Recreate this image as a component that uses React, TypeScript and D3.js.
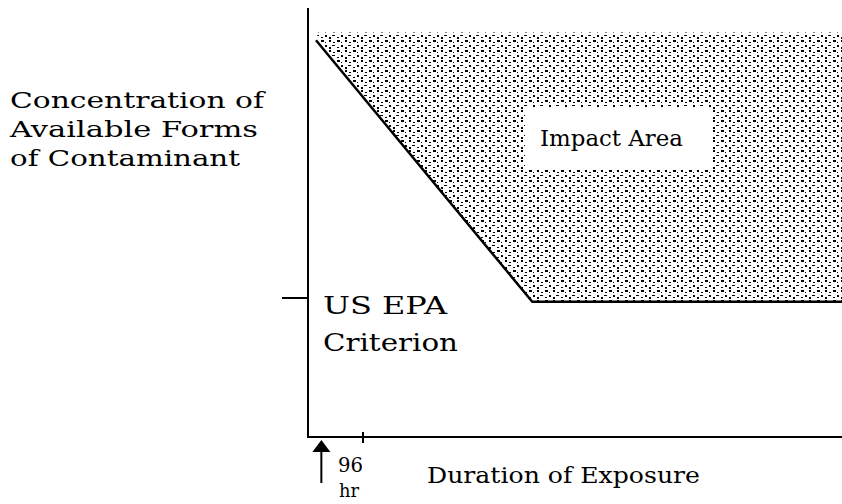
import React from "react";
import * as d3 from "d3";

// Boundary of the impact area (duration %, concentration %)
const boundaryDuration = [1.5, 42, 100];
const boundaryConcentration = [92.5, 31.5, 31.5];
const impactTop = 94.3;
const criterionValue = 32.4;
const tick96hr = 10.3;
const arrowDuration = 2.5;

const yLabelLines = ["Concentration of", "Available Forms", "of Contaminant"];
const criterionLines = ["US EPA", "Criterion"];
const xLabel = "Duration of Exposure";
const impactLabel = "Impact Area";
const tickLabels = ["96", "hr"];

const W = 842;
const H = 504;

export default function App() {
  const x = d3.scaleLinear().domain([0, 100]).range([308, 842]);
  const y = d3.scaleLinear().domain([0, 100]).range([437, 8]);

  const pts: [number, number][] = boundaryDuration.map((d, i) => [x(d), y(boundaryConcentration[i])]);
  const area: [number, number][] = [
    [x(boundaryDuration[0]) + 2, y(impactTop)],
    [x(100), y(impactTop)],
    ...pts.slice().reverse(),
  ];
  const areaPath = d3.line()(area) + "Z";
  const linePath = d3.line()(pts) || "";

  const font = "'DejaVu Serif', 'Liberation Serif', serif";

  return (
    <svg width={W} height={H} style={{ position: "absolute", left: 0, top: 0, background: "#fff" }}>
      <defs>
        <pattern id="stip" width="16" height="10" patternUnits="userSpaceOnUse">
          <rect x="1" y="0" width="3" height="2" fill="#000" />
          <rect x="9" y="0" width="2" height="2" fill="#000" />
          <rect x="5" y="2" width="1" height="1" fill="#000" />
          <rect x="13" y="2" width="2" height="1" fill="#000" />
          <rect x="5" y="5" width="2" height="2" fill="#000" />
          <rect x="12" y="5" width="3" height="1" fill="#000" />
          <rect x="1" y="7" width="2" height="1" fill="#000" />
          <rect x="9" y="7" width="2" height="2" fill="#000" />
        </pattern>
      </defs>
      <rect width={W} height={H} fill="#fff" />
      <path d={areaPath} fill="url(#stip)" />
      <path d={linePath} fill="none" stroke="#000" strokeWidth={2.5} />
      {/* white box behind Impact Area */}
      <rect x={525} y={107} width={187} height={62} fill="#fff" />
      <text x={540} y={146} fontFamily={font} fontSize={22} textLength={143} lengthAdjust="spacingAndGlyphs">{impactLabel}</text>

      {/* axes */}
      <line x1={x(0)} x2={x(0)} y1={y(100)} y2={y(0) + 1} stroke="#000" strokeWidth={2} />
      <line x1={x(0)} x2={x(100)} y1={y(0)} y2={y(0)} stroke="#000" strokeWidth={2} />
      <line x1={282} x2={x(0)} y1={y(criterionValue)} y2={y(criterionValue)} stroke="#000" strokeWidth={2} />
      <line x1={x(tick96hr)} x2={x(tick96hr)} y1={y(0) - 5} y2={y(0) + 6} stroke="#000" strokeWidth={2} />

      {/* arrow */}
      <line x1={x(arrowDuration)} x2={x(arrowDuration)} y1={y(0) + 14} y2={y(0) + 46} stroke="#000" strokeWidth={2} />
      <path d={`M${x(arrowDuration)},${y(0) + 3} L${x(arrowDuration) + 9},${y(0) + 15} L${x(arrowDuration) - 9},${y(0) + 15} Z`} fill="#000" />

      <text x={338} y={472} fontFamily={font} fontSize={20} textLength={25} lengthAdjust="spacingAndGlyphs">{tickLabels[0]}</text>
      <text x={339} y={497} fontFamily={font} fontSize={18} textLength={20} lengthAdjust="spacingAndGlyphs">{tickLabels[1]}</text>

      <text x={427} y={483} fontFamily={font} fontSize={22} textLength={273} lengthAdjust="spacingAndGlyphs">{xLabel}</text>

      {yLabelLines.map((t, i) => (
        <text key={t} x={10} y={108 + i * 29} fontFamily={font} fontSize={22} textLength={[254, 248, 230][i]} lengthAdjust="spacingAndGlyphs">{t}</text>
      ))}
      {criterionLines.map((t, i) => (
        <text key={t} x={323} y={314 + i * 37} fontFamily={font} fontSize={24} textLength={[124, 135][i]} lengthAdjust="spacingAndGlyphs">{t}</text>
      ))}
    </svg>
  );
}
